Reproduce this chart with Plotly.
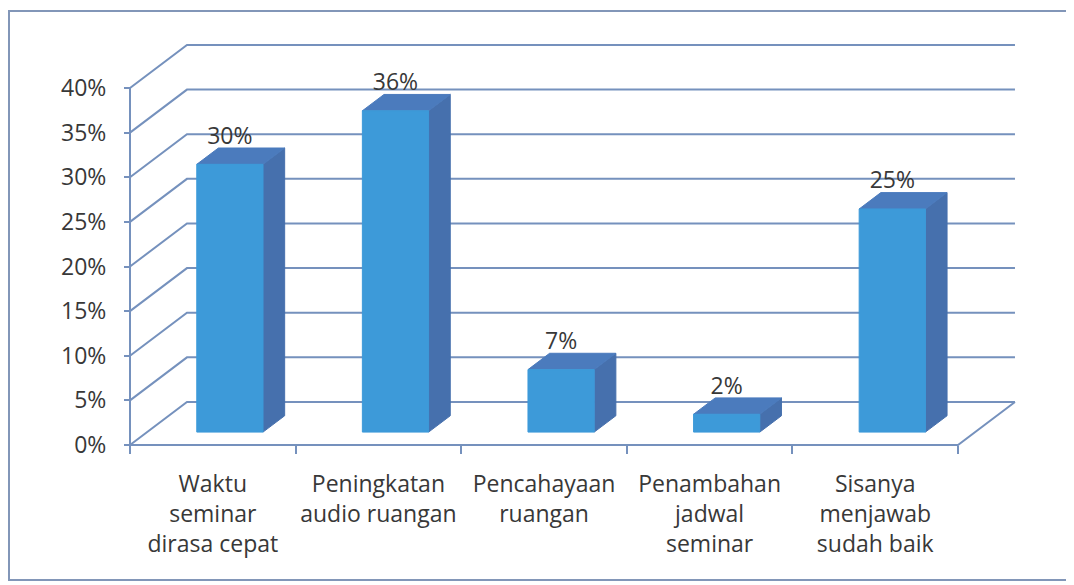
import plotly.graph_objects as go

# ---------------- data ----------------
categories = [
    "Waktu<br>seminar<br>dirasa cepat",
    "Peningkatan<br>audio ruangan",
    "Pencahayaan<br>ruangan",
    "Penambahan<br>jadwal<br>seminar",
    "Sisanya<br>menjawab<br>sudah baik",
]
values = [30, 36, 7, 2, 25]
data_labels = ["30%", "36%", "7%", "2%", "25%"]
y_tick_values = [0, 5, 10, 15, 20, 25, 30, 35, 40]
y_tick_labels = ["0%", "5%", "10%", "15%", "20%", "25%", "30%", "35%", "40%"]

# ---------------- style / geometry ----------------
FRONT = "#3d9ad9"
TOP = "#4b7bbd"
SIDE = "#4670ad"
GRID = "#7591bd"
TEXT = "#383838"
FONT = "Open Sans"

N = len(categories)
DX = 0.344      # depth offset in x (category units)
DY = 4.82       # depth offset in y (percent units)
HALF = 0.2      # half bar width
D0, D1 = 0.30, 0.68  # bar front/back depth fractions

OFF = 8  # page body margin of the html page
# pixel mapping (figure pixels)
PX0, PXU = 130 - OFF, 165.6   # x=0 pixel, pixels per unit
PY0, PYU = 445 - OFF, 8.925   # y=0 pixel, pixels per unit
W, H = 1074 - OFF, 585 - OFF
L, R, T, B = 118, 1015, 32, 444
xrange_ = [(L - PX0) / PXU, (R - PX0) / PXU]
yrange_ = [(PY0 - B) / PYU, (PY0 - T) / PYU]

fig = go.Figure()

# grid: left wall diagonals + back wall lines + floor + front axis line
gx, gy = [], []
ymax = max(y_tick_values)
for v in y_tick_values:
    gx += [0, DX, N + DX, None]
    gy += [v, v + DY, v + DY, None]
gx += [0, N, N + DX, None, 0, 0, None]
gy += [0, 0, DY, None, 0, ymax, None]
fig.add_trace(go.Scatter(x=gx, y=gy, mode="lines",
                         line=dict(color=GRID, width=2), hoverinfo="skip"))

# bars
lx, ly = [], []
for i, v in enumerate(values):
    c = i + 0.5
    x0, x1 = c - HALF, c + HALF
    a, b = D0 * DX, D1 * DX
    ay, by = D0 * DY, D1 * DY
    side = ([x1 + a, x1 + b, x1 + b, x1 + a, x1 + a],
            [ay, by, v + by, v + ay, ay])
    top = ([x0 + a, x1 + a, x1 + b, x0 + b, x0 + a],
           [v + ay, v + ay, v + by, v + by, v + ay])
    front = ([x0 + a, x1 + a, x1 + a, x0 + a, x0 + a],
             [ay, ay, v + ay, v + ay, ay])
    for (px, py), col in ((side, SIDE), (top, TOP), (front, FRONT)):
        fig.add_trace(go.Scatter(x=px, y=py, mode="lines", fill="toself",
                                 fillcolor=col, line=dict(color=col, width=1),
                                 hoverinfo="skip"))
    lx.append(c + a)
    ly.append(v + by + 10 / PYU)

fig.add_trace(go.Scatter(x=lx, y=ly, mode="text", text=data_labels,
                         textposition="middle center",
                         textfont=dict(family=FONT, size=23, color=TEXT),
                         hoverinfo="skip", cliponaxis=False))

# outer border
def px2paper_x(p):
    return (p - L) / (R - L)

def px2paper_y(p):
    return (B - p) / (B - T)

fig.add_shape(type="rect", xref="paper", yref="paper",
              x0=px2paper_x(1), x1=px2paper_x(W + 10),
              y0=px2paper_y(580 - OFF), y1=px2paper_y(11 - OFF),
              line=dict(color="#8296b8", width=2), fillcolor="rgba(0,0,0,0)",
              layer="below")

fig.update_layout(
    width=W, height=H,
    margin=dict(l=L, r=W - R, t=T, b=H - B),
    paper_bgcolor="white", plot_bgcolor="white",
    showlegend=False, hovermode=False,
    xaxis=dict(range=xrange_, showgrid=False, zeroline=False, showline=False,
               tickmode="array", tickvals=[i + 0.5 for i in range(N)],
               ticktext=categories, ticks="",
               tickfont=dict(family=FONT, size=23, color=TEXT),
               ticklabelstandoff=23,
               minor=dict(tickmode="array", tickvals=list(range(N + 1)),
                          ticks="outside", ticklen=8, tickwidth=2, tickcolor=GRID,
                          showgrid=False),
               anchor="free", position=(B - PY0) / (B - T)),
    yaxis=dict(range=yrange_, showgrid=False, zeroline=False, showline=False,
               tickmode="array", tickvals=y_tick_values, ticktext=y_tick_labels,
               ticks="outside", ticklen=6, tickwidth=2, tickcolor=GRID,
               tickfont=dict(family=FONT, size=23, color=TEXT),
               ticklabelstandoff=13,
               anchor="free", position=(PX0 - L) / (R - L)),
)

fig.write_html("out.html")
